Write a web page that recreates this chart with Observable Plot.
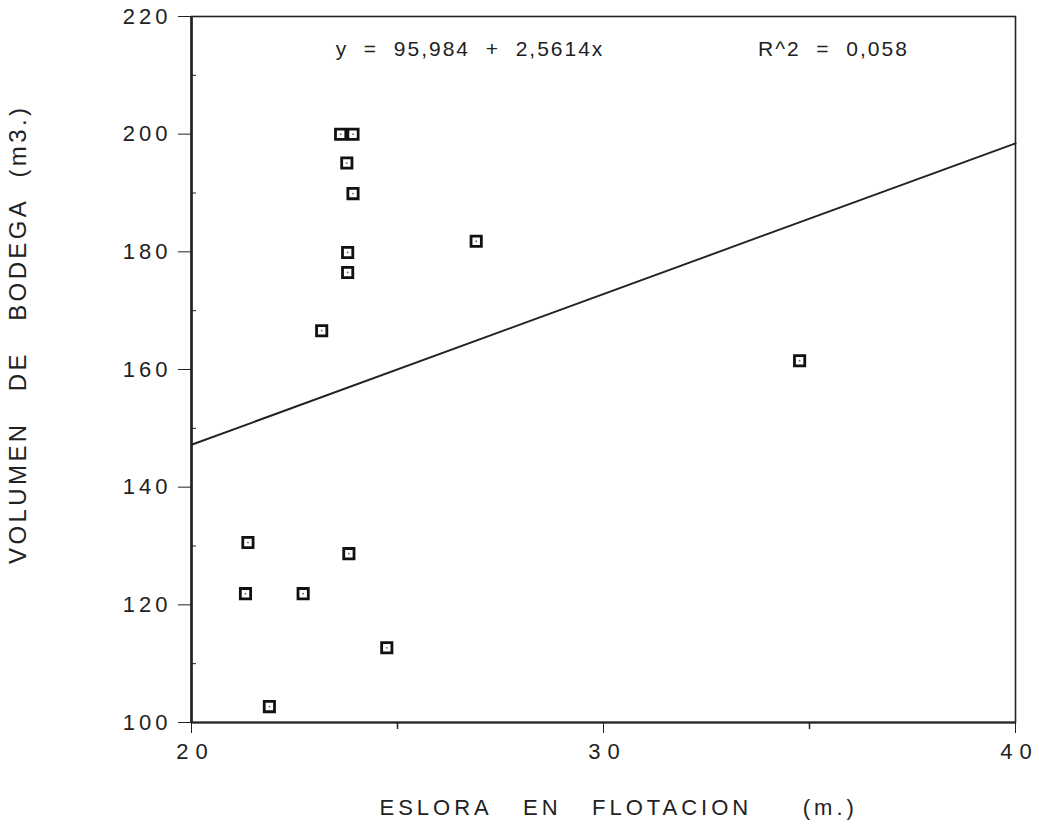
<!DOCTYPE html>
<html>
<head>
<meta charset="utf-8">
<script src="https://cdn.jsdelivr.net/npm/d3@7"></script>
<script src="https://cdn.jsdelivr.net/npm/@observablehq/plot@0.6"></script>
<style>
  html, body { margin: 0; padding: 0; background: #fff; }
  svg text { letter-spacing: 4px; }
  g[aria-label="x-axis tick label"] text { letter-spacing: 7px; }
  g[aria-label="y-axis label"] text { font-size: 24px; letter-spacing: 3.4px; }
  g[aria-label="text"] text { letter-spacing: 2px; }
</style>
</head>
<body>
<div id="chart"></div>
<script>
// Data
const eslora =  [23.62, 23.92, 23.77, 23.92, 23.79, 23.79, 26.91, 23.16, 34.76, 21.37, 23.82, 21.31, 22.71, 24.74, 21.89];
const volumen = [200.0, 200.0, 195.1, 189.9, 179.9, 176.5, 181.8, 166.6, 161.5, 130.6, 128.7, 121.9, 121.9, 112.7, 102.7];

// Regression line y = a + b x
const intercept = 95.984;
const slope = 2.5614;
const lineX = [20, 40];

const yMajor = [100, 120, 140, 160, 180, 200, 220];
const yMinor = [110, 130, 150, 170, 190, 210];
const xMajor = [20, 30, 40];
const xMinor = [25, 35];

const nb = "\u00a0";
const annotText = [`y${nb}${nb}=${nb}${nb}95,984${nb}${nb}+${nb}${nb}2,5614x`, `R^2${nb}${nb}=${nb}${nb}0,058`];
const annotX = [23.5, 33.75];
const annotY = [214.5, 214.5];

const xLabel = `${nb.repeat(3)}ESLORA${nb.repeat(3)}EN${nb.repeat(3)}FLOTACION${nb.repeat(5)}(m.)`;
const yLabel = `${nb.repeat(7)}VOLUMEN${nb.repeat(3)}DE${nb.repeat(3)}BODEGA${nb.repeat(2)}(m3.)`;

const points = eslora.map((x, i) => ({x, y: volumen[i]}));
const line = lineX.map(x => ({x, y: intercept + slope * x}));
const annots = annotText.map((t, i) => ({t, x: annotX[i], y: annotY[i]}));

const ink = "#222";

const chart = Plot.plot({
  width: 1039,
  height: 838,
  marginLeft: 191,
  marginRight: 24,
  marginTop: 16,
  marginBottom: 116,
  style: { fontFamily: "'Liberation Sans', Arial, sans-serif", fontSize: "22px", color: ink, background: "#fff" },
  x: { domain: [20, 40] },
  y: { domain: [100, 220] },
  marks: [
    Plot.frame({ stroke: ink, strokeWidth: 1.6 }),
    Plot.ruleX([20], { stroke: ink, strokeWidth: 2.6 }),
    Plot.ruleY([100], { stroke: ink, strokeWidth: 2.2 }),
    Plot.axisY(yMajor, { anchor: "left", tickSize: 13, tickPadding: 7, tickFormat: d => d, label: yLabel, labelArrow: "none", labelAnchor: "center", labelOffset: 183, stroke: ink, fill: ink }),
    Plot.axisY(yMinor, { anchor: "left", tickSize: -5, tickFormat: () => "", label: null, stroke: ink }),
    Plot.axisX(xMajor, { anchor: "bottom", tickSize: 11, tickFormat: () => "", label: xLabel, labelArrow: "none", labelAnchor: "center", labelOffset: 92, stroke: ink }),
    Plot.axisX(xMajor, { anchor: "bottom", tickSize: 0, tickPadding: 21, dx: 4, tickFormat: d => d, label: null, fill: ink }),
    Plot.axisX(xMinor, { anchor: "bottom", tickSize: 7, tickFormat: () => "", label: null, stroke: ink, strokeWidth: 1.5 }),
    Plot.line(line, { x: "x", y: "y", stroke: ink, strokeWidth: 1.9 }),
    Plot.dot(points, { x: "x", y: "y", symbol: "square", r: 5.8, stroke: "#111", strokeWidth: 2.8, fill: "#fff" }),
    Plot.dot(points, { x: "x", y: "y", r: 0.9, fill: "#666", stroke: null }),
    Plot.text(annots, { x: "x", y: "y", text: "t", textAnchor: "start", fill: ink, fontSize: 21 })
  ]
});
document.getElementById("chart").appendChild(chart);
</script>
</body>
</html>
